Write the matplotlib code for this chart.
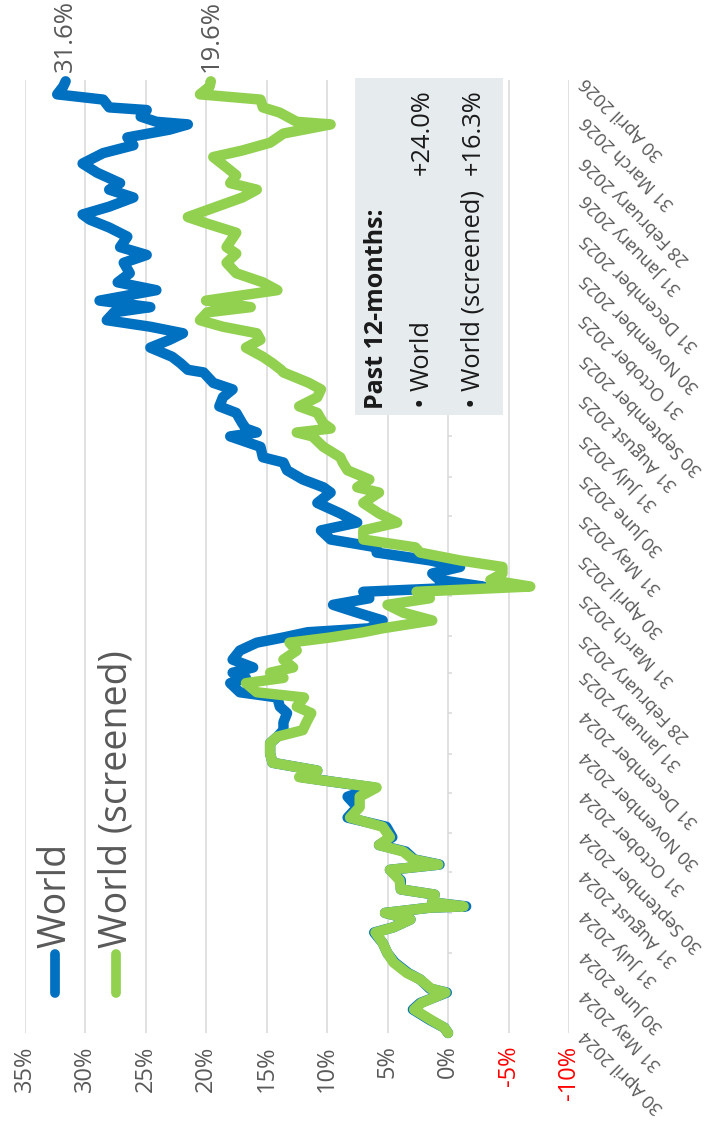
import matplotlib
matplotlib.use('Agg')
import matplotlib.pyplot as plt
import matplotlib.dates as mdates
from matplotlib.lines import Line2D
from matplotlib.patches import Rectangle
import pandas as pd

plt.rcParams['font.family'] = ['Open Sans', 'DejaVu Sans']

# cumulative return (%) since 30 April 2024
early_dates = [
    '2024-04-30', '2024-05-04', '2024-05-10', '2024-05-18', '2024-05-23', '2024-05-31', '2024-06-03', '2024-06-10', '2024-06-15', '2024-06-23',
    '2024-06-30', '2024-07-08', '2024-07-16', '2024-07-20', '2024-07-26', '2024-07-31', '2024-08-04', '2024-08-05', '2024-08-08', '2024-08-14',
    '2024-08-18', '2024-08-25', '2024-09-02', '2024-09-06', '2024-09-10', '2024-09-16', '2024-09-21', '2024-09-27', '2024-10-05', '2024-10-12',
    '2024-10-20', '2024-10-28', '2024-11-04', '2024-11-08', '2024-11-12', '2024-11-17', '2024-11-23', '2024-11-30', '2024-12-08', '2024-12-13',
    '2024-12-18', '2024-12-24', '2024-12-31', '2025-01-05', '2025-01-12', '2025-01-16', '2025-01-23', '2025-01-27', '2025-01-31', '2025-02-04',
    '2025-02-10', '2025-02-17', '2025-02-23', '2025-02-27', '2025-03-03', '2025-03-06', '2025-03-12', '2025-03-18', '2025-03-24', '2025-03-29',
    '2025-04-03', '2025-04-07', '2025-04-12', '2025-04-17', '2025-04-22', '2025-04-27', '2025-05-03', '2025-05-07', '2025-05-13', '2025-05-20',
    '2025-05-26', '2025-06-02', '2025-06-10', '2025-06-18', '2025-06-22', '2025-06-28', '2025-07-05', '2025-07-11', '2025-07-15', '2025-07-23',
    '2025-07-31', '2025-08-03', '2025-08-06', '2025-08-10', '2025-08-18', '2025-08-23', '2025-08-30', '2025-09-05', '2025-09-10', '2025-09-18',
    '2025-09-20', '2025-09-25', '2025-09-30', '2025-10-07', '2025-10-13', '2025-10-18', '2025-10-23', '2025-10-28', '2025-11-03', '2025-11-07',
    '2025-11-12',
]
world_early = [
    0.0, 0.3, 1.5, 2.9, 2.3, 0.1, 1.5, 2.3, 3.3, 4.4,
    5.0, 5.4, 6.1, 4.5, 3.1, 5.2, 1.5, -1.5, 1.3, 1.1,
    3.9, 3.9, 4.8, 0.7, 2.8, 3.5, 5.7, 4.6, 5.1, 8.3,
    7.5, 8.3, 6.1, 9.2, 12.1, 10.8, 14.5, 14.7, 14.7, 14.1,
    13.6, 13.6, 13.3, 13.9, 14.1, 17.2, 18.0, 16.7, 17.8, 16.1,
    17.8, 17.2, 15.8, 13.6, 11.6, 6.5, 5.4, 7.5, 9.5, 6.5,
    7.0, -2.9, 0.7, 1.3, -1.0, 1.5, 5.9, 5.9, 9.7, 10.5,
    7.5, 8.9, 10.8, 9.7, 10.3, 12.0, 13.3, 13.6, 15.3, 15.5,
    18.0, 15.8, 16.7, 17.0, 17.5, 18.9, 18.6, 17.8, 19.4, 20.2,
    21.5, 22.1, 22.8, 24.6, 23.0, 21.9, 24.6, 28.2, 27.6, 24.6,
    28.8,
]
screened_early = [
    0.0, 0.3, 1.4, 2.8, 2.2, 0.2, 1.4, 2.3, 3.4, 4.5,
    5.0, 5.4, 6.0, 4.5, 3.1, 5.2, 1.5, -1.3, 1.3, 1.1,
    3.9, 4.0, 4.8, 0.8, 2.9, 3.7, 5.7, 4.8, 5.4, 8.1,
    7.3, 7.3, 5.9, 9.2, 12.3, 10.8, 14.5, 14.7, 14.7, 14.1,
    12.0, 11.7, 11.3, 12.5, 11.9, 15.8, 16.7, 13.6, 14.7, 12.8,
    13.6, 12.5, 13.1, 9.7, 7.0, 5.4, 1.3, 3.7, 5.0, 1.5,
    2.6, -6.8, -3.5, -4.5, -4.5, -1.0, 2.3, 2.7, 7.0, 7.0,
    4.2, 5.7, 7.0, 5.7, 7.5, 6.5, 8.3, 8.7, 8.9, 10.3,
    11.2, 12.5, 9.7, 10.3, 10.8, 12.3, 10.8, 10.5, 11.5, 13.6,
    13.8, 14.5, 15.3, 16.7, 15.5, 15.8, 18.6, 20.5, 19.9, 16.3,
    20.0,
]

world_late_dates = [
    '2025-11-20', '2025-11-26', '2025-12-03', '2025-12-11', '2025-12-17', '2025-12-23', '2025-12-31', '2026-01-07', '2026-01-13', '2026-01-17',
    '2026-01-23', '2026-01-30', '2026-02-05', '2026-02-10', '2026-02-18', '2026-02-25', '2026-03-05', '2026-03-11', '2026-03-17', '2026-03-23',
    '2026-03-27', '2026-03-29', '2026-04-02', '2026-04-07', '2026-04-09', '2026-04-15', '2026-04-19', '2026-04-25', '2026-04-29',
]
world_late = [
    24.1, 27.3, 26.3, 26.8, 24.9, 27.1, 26.5, 28.0, 29.6, 30.2,
    28.0, 26.0, 28.0, 27.1, 29.0, 30.2, 28.5, 26.0, 26.5, 23.0,
    21.5, 24.1, 25.4, 24.9, 28.0, 28.5, 32.3, 31.8, 31.6,
]
screened_late_dates = [
    '2025-11-20', '2025-11-26', '2025-12-03', '2025-12-11', '2025-12-18', '2025-12-23', '2026-01-03', '2026-01-10', '2026-01-15', '2026-01-22',
    '2026-01-30', '2026-02-05', '2026-02-10', '2026-02-16', '2026-02-22', '2026-03-02', '2026-03-07', '2026-03-13', '2026-03-20', '2026-03-27',
    '2026-03-29', '2026-04-05', '2026-04-09', '2026-04-15', '2026-04-19', '2026-04-25', '2026-04-29',
]
screened_late = [
    14.1, 15.3, 17.5, 18.3, 17.5, 18.3, 17.5, 19.9, 21.5, 19.4,
    17.0, 15.8, 18.0, 17.5, 18.3, 19.4, 17.0, 14.7, 13.6, 9.7,
    12.5, 13.9, 15.3, 15.5, 20.5, 19.7, 19.6,
]

series_names = ['World', 'World (screened)']
series_colors = ['#0070C0', '#92D050']
past_12m = ['+24.0%', '+16.3%']
pct_ticks = [35, 30, 25, 20, 15, 10, 5, 0, -5, -10]
month_ends = pd.date_range('2024-04-30', '2026-04-30', freq='ME')

GREY = '#595959'
INK = '#1A1A1A'
W, H = 705, 1126


def fx(px):
    return px / W


def fy(py):
    return 1 - py / H


fig = plt.figure(figsize=(W / 100, H / 100), dpi=100)
ax = fig.add_axes([fx(24.5), fy(1033), (569 - 24.5) / W, (1033 - 80) / H])

world_d = mdates.date2num(pd.to_datetime(early_dates + world_late_dates))
screened_d = mdates.date2num(pd.to_datetime(early_dates + screened_late_dates))
world_v = world_early + world_late
screened_v = screened_early + screened_late
ticks_d = mdates.date2num(month_ends)

ax.set_xlim(35, -10)
ax.set_ylim(ticks_d[0], ticks_d[-1])
for s in ax.spines.values():
    s.set_visible(False)

# percent gridlines, labels under the plot
ax.set_xticks(pct_ticks)
ax.set_xticklabels([f'{t}%' for t in pct_ticks], rotation=90, fontsize=17, va='top', ha='center')
for t, lbl in zip(pct_ticks, ax.get_xticklabels()):
    lbl.set_color('#FF0000' if t < 0 else GREY)
ax.grid(axis='x', color='#D9D9D9', lw=1.1)
ax.set_axisbelow(True)
ax.tick_params(axis='x', length=0, pad=9)

# month-end dates on the right
ax.set_yticks(ticks_d)
ax.set_yticklabels([f"{d.day} {d.strftime('%B %Y')}" for d in month_ends],
                   rotation=135, rotation_mode='anchor', ha='right', va='center',
                   fontsize=13, color=GREY)
ax.tick_params(axis='y', left=False, right=False, labelleft=False, labelright=True, pad=7)

# small ticks on the zero line
ax.hlines(ticks_d, 0, -0.35, color='#D9D9D9', lw=1.1)

ax.plot(world_v, world_d, color=series_colors[0], lw=7.5, solid_capstyle='round',
        solid_joinstyle='round', clip_on=False, zorder=3)
ax.plot(screened_v, screened_d, color=series_colors[1], lw=7.5, solid_capstyle='round',
        solid_joinstyle='round', clip_on=False, zorder=4)

for v, d in [(world_v[-1], world_d[-1]), (screened_v[-1], screened_d[-1])]:
    ax.annotate(f'{v:.1f}%', (v, d), xytext=(0, 7), textcoords='offset points',
                rotation=90, ha='center', va='bottom', fontsize=18.5, color=GREY)

# legend
for name, col, xl, xb in zip(series_names, series_colors, [55, 116.5], [65, 127]):
    fig.add_artist(Line2D([fx(xl), fx(xl)], [fy(993), fy(954)], color=col, lw=7,
                          solid_capstyle='round'))
    fig.text(fx(xb), fy(948), name, rotation=90, rotation_mode='anchor',
             ha='left', va='baseline', fontsize=27, color=GREY)

# past 12-months box
fig.add_artist(Rectangle((fx(355), fy(415)), (503 - 355) / W, (415 - 78) / H,
                         facecolor='#E6EBEE', edgecolor='none', zorder=5))
fig.text(fx(383), fy(409), 'Past 12-months:', rotation=90, rotation_mode='anchor',
         ha='left', va='baseline', fontsize=18, fontweight='bold', color=INK, zorder=6)
for name, val, xb in zip(series_names, past_12m, [429, 480]):
    fig.text(fx(xb - 8), fy(401), '\u2022', rotation=90, rotation_mode='anchor',
             ha='center', va='center', fontsize=20, color=INK, zorder=6)
    fig.text(fx(xb), fy(391), name, rotation=90, rotation_mode='anchor',
             ha='left', va='baseline', fontsize=18.3, color=INK, zorder=6)
    fig.text(fx(xb), fy(89), val, rotation=90, rotation_mode='anchor',
             ha='right', va='baseline', fontsize=18.3, color=INK, zorder=6)

fig.savefig('out.png', dpi=100)
